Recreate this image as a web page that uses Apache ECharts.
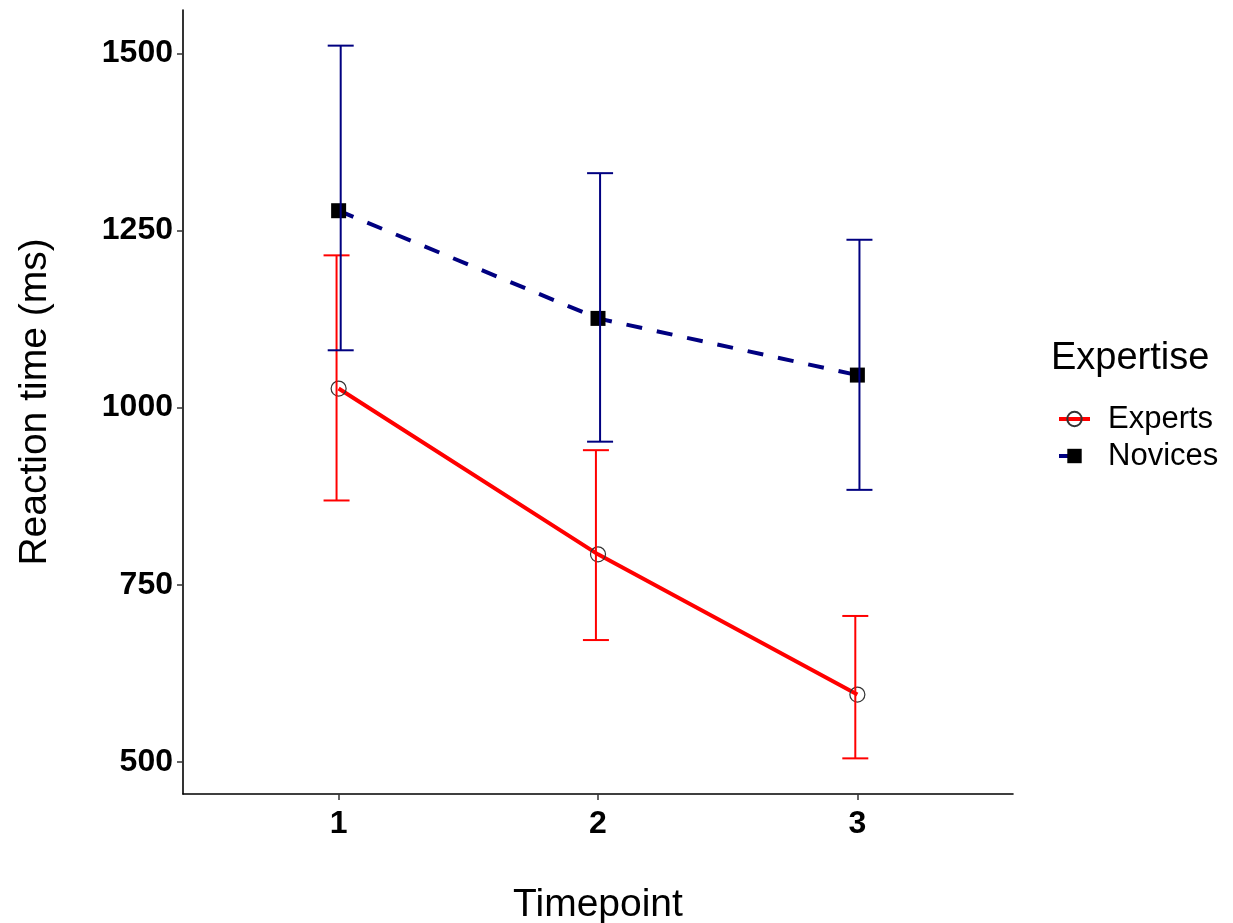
<!DOCTYPE html>
<html>
<head>
<meta charset="utf-8">
<script src="https://cdn.jsdelivr.net/npm/echarts@6/dist/echarts.min.js"></script>
<style>
html,body{margin:0;padding:0;background:#fff;}
#chart{width:1233px;height:923px;}
</style>
</head>
<body>
<div id="chart"></div>
<script>
var timepoints = [1, 2, 3];
var xTicks = [1, 2, 3];
var yTicks = [500, 750, 1000, 1250, 1500];
var expertsMean = [1027, 793, 595];
var expertsLow = [869, 672, 505];
var expertsHigh = [1215, 940, 706];
var novicesMean = [1278, 1126, 1046];
var novicesLow = [1081, 952, 884];
var novicesHigh = [1511, 1331, 1237];

var FONT = '"Liberation Sans", Arial, sans-serif';

function pairs(xs, ys) { return xs.map(function (x, i) { return [x, ys[i]]; }); }
function bars(xs, lo, hi) { return xs.map(function (x, i) { return [x, lo[i], hi[i]]; }); }

function errorRenderer(color, dodge) {
  return function (params, api) {
    var x = api.value(0) + dodge;
    var lo = api.coord([x, api.value(1)]);
    var hi = api.coord([x, api.value(2)]);
    var half = 13;
    var st = { stroke: color, lineWidth: 2, fill: null };
    return {
      type: 'group',
      children: [
        { type: 'line', shape: { x1: hi[0], y1: hi[1], x2: lo[0], y2: lo[1] }, style: st },
        { type: 'line', shape: { x1: hi[0] - half, y1: hi[1], x2: hi[0] + half, y2: hi[1] }, style: st },
        { type: 'line', shape: { x1: lo[0] - half, y1: lo[1], x2: lo[0] + half, y2: lo[1] }, style: st }
      ]
    };
  };
}

var chart = echarts.init(document.getElementById('chart'), null, { renderer: 'canvas' });
chart.setOption({
  animation: false,
  backgroundColor: '#ffffff',
  textStyle: { fontFamily: FONT },
  grid: { left: 183, right: 220, top: 10, bottom: 129, containLabel: false, outerBoundsMode: 'none' },
  xAxis: {
    type: 'value', min: 0.4, max: 3.6,
    name: 'Timepoint', nameLocation: 'middle', nameGap: 92,
    nameTextStyle: { fontSize: 39, color: '#000', fontFamily: FONT },
    axisLine: { show: true, onZero: false, lineStyle: { color: '#000', width: 1.6 } },
    axisTick: { show: true, length: 6, customValues: xTicks, lineStyle: { color: '#333', width: 1.5 } },
    axisLabel: { customValues: xTicks, fontSize: 32, fontWeight: 'bold', color: '#000', margin: 14, fontFamily: FONT,
      formatter: function (v) { return String(v); } },
    splitLine: { show: false }
  },
  yAxis: {
    type: 'value', min: 454.7, max: 1561.3,
    name: 'Reaction time (ms)', nameLocation: 'middle', nameGap: 128,
    nameTextStyle: { fontSize: 39, color: '#000', fontFamily: FONT },
    axisLine: { show: true, onZero: false, lineStyle: { color: '#000', width: 1.6 } },
    axisTick: { show: true, length: 6, customValues: yTicks, lineStyle: { color: '#333', width: 1.5 } },
    axisLabel: { customValues: yTicks, fontSize: 32, fontWeight: 'bold', color: '#000', margin: 10, fontFamily: FONT,
      formatter: function (v) { return String(v); } },
    splitLine: { show: false }
  },
  graphic: [{
    type: 'text', left: 1051, top: 340,
    style: { text: 'Expertise', fontSize: 38, fill: '#000', fontFamily: FONT }
  }],
  legend: {
    orient: 'vertical', left: 1052, top: 397,
    itemWidth: 31, itemHeight: 18, itemGap: 3,
    lineStyle: { width: 4 },
    textStyle: { fontSize: 31, color: '#000', fontFamily: FONT, lineHeight: 34, padding: [0, 0, 0, 13] },
    data: ['Experts', 'Novices']
  },
  series: [
    {
      name: 'Experts', type: 'line', data: pairs(timepoints, expertsMean),
      symbol: 'circle', symbolSize: 15,
      lineStyle: { color: '#ff0000', width: 4, type: 'solid' },
      itemStyle: { color: 'rgba(255,255,255,0)', borderColor: '#333', borderWidth: 1.2 },
      z: 2
    },
    {
      name: 'Novices', type: 'line', data: pairs(timepoints, novicesMean),
      symbol: 'rect', symbolSize: 15,
      lineStyle: { color: '#000080', width: 4, type: [16, 15] },
      itemStyle: { color: '#000000', borderWidth: 0 },
      z: 2
    },
    {
      name: 'ExpertsErr', type: 'custom', data: bars(timepoints, expertsLow, expertsHigh),
      renderItem: errorRenderer('#ff0000', -0.008), z: 3, silent: true
    },
    {
      name: 'NovicesErr', type: 'custom', data: bars(timepoints, novicesLow, novicesHigh),
      renderItem: errorRenderer('#000080', 0.008), z: 3, silent: true
    }
  ]
});
</script>
</body>
</html>
